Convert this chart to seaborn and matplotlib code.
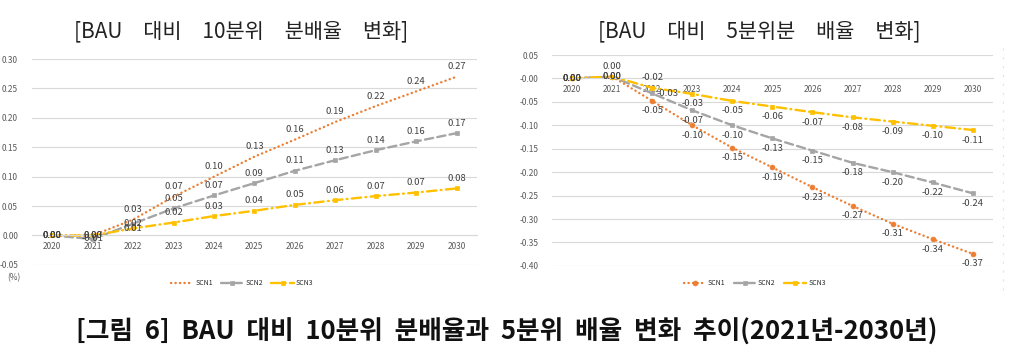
import numpy as np
import pandas as pd
import matplotlib
matplotlib.use("Agg")
import matplotlib.pyplot as plt
from matplotlib.lines import Line2D
import seaborn as sns

# ============================================================================
# DATA
# ============================================================================

years = [2020, 2021, 2022, 2023, 2024, 2025, 2026, 2027, 2028, 2029, 2030]

# BAU 대비 10분위 분배율 변화
decile_scn1 = [0.00, 0.00, 0.027, 0.066, 0.10, 0.134, 0.163, 0.193, 0.22, 0.245, 0.27]
decile_scn2 = [0.00, -0.006, 0.02, 0.046, 0.068, 0.089, 0.11, 0.128, 0.145, 0.16, 0.174]
decile_scn3 = [0.00, 0.00, 0.012, 0.022, 0.033, 0.042, 0.052, 0.06, 0.067, 0.073, 0.08]

# BAU 대비 5분위분 배율 변화
quint_scn1 = [0.00, 0.004, -0.048, -0.10, -0.148, -0.19, -0.232, -0.272, -0.31, -0.343, -0.374]
quint_scn2 = [0.00, 0.004, -0.032, -0.068, -0.10, -0.128, -0.154, -0.18, -0.20, -0.222, -0.245]
quint_scn3 = [0.00, 0.004, -0.02, -0.033, -0.048, -0.06, -0.072, -0.083, -0.092, -0.101, -0.11]

series_names = ["SCN1", "SCN2", "SCN3"]

# data-label placement per point (as the Excel original has them)
decile_pos = {
    "SCN1": ["c", "c"] + ["a"] * 9,
    "SCN2": ["c", "c", "c"] + ["a"] * 8,
    "SCN3": ["c", "c", "c"] + ["a"] * 8,
}
quint_pos = {
    "SCN1": ["c", "a"] + ["b"] * 9,
    "SCN2": ["c", "c", "r"] + ["b"] * 8,
    "SCN3": ["c", "c", "a"] + ["b"] * 8,
}

COLORS = {"SCN1": "#ED7D31", "SCN2": "#A5A5A5", "SCN3": "#FFC000"}
LINESTYLES = {
    "SCN1": (0, (0.1, 1.8)),
    "SCN2": (0, (3.5, 1.8)),
    "SCN3": (0, (4.0, 1.8, 0.4, 1.8)),
}
OFFSETS = {"a": ((0, 4), "center", "bottom"), "b": ((0, -4), "center", "top"),
           "c": ((0, 0), "center", "center"), "r": ((3, 0), "left", "center")}

sns.set_theme(style="white")
plt.rcParams["font.family"] = ["Noto Sans CJK KR", "DejaVu Sans"]

fig = plt.figure(figsize=(10.13, 3.56), dpi=100)


def draw_panel(ax, values, ylim, yticks, positions, markers):
    df = pd.DataFrame({"year": years})
    for name, vals in zip(series_names, values):
        df[name] = vals
    for name in series_names:
        sns.lineplot(data=df, x="year", y=name, ax=ax, label=name,
                     color=COLORS[name], linestyle=LINESTYLES[name],
                     linewidth=1.7, dash_capstyle="round",
                     marker=markers[name], markersize=3.5,
                     markeredgecolor=COLORS[name], markeredgewidth=0.5)
        for x, y, p in zip(df["year"], df[name], positions[name]):
            off, ha, va = OFFSETS[p]
            ax.annotate(f"{y:.2f}", (x, y), xytext=off,
                        textcoords="offset points", ha=ha, va=va,
                        fontsize=6.8, color="#404040")
    ax.set_xlim(years[0] - 0.5, years[-1] + 0.5)
    ax.set_ylim(*ylim)
    ax.set_yticks(yticks)
    ax.set_yticklabels([f"{t:.2f}" for t in yticks])
    ax.set_xticks(years)
    ax.set_xticklabels([str(y) for y in years])
    ax.tick_params(axis="both", length=0, labelsize=6, labelcolor="#595959")
    ax.tick_params(axis="y", pad=10)
    ax.tick_params(axis="x", pad=5)
    for side in ["top", "right", "left"]:
        ax.spines[side].set_visible(False)
    ax.spines["bottom"].set_position(("data", 0))
    ax.spines["bottom"].set_color("#D9D9D9")
    ax.spines["bottom"].set_linewidth(0.8)
    ax.yaxis.grid(True, color="#D9D9D9", linewidth=0.8)
    ax.xaxis.grid(False)
    ax.set_xlabel("")
    ax.set_ylabel("")
    ax.get_legend().remove()


ax1 = fig.add_axes([0.0316, 0.256, 0.439, 0.578])
draw_panel(ax1, [decile_scn1, decile_scn2, decile_scn3],
           (-0.05, 0.30), np.round(np.arange(-0.05, 0.31, 0.05), 2), decile_pos,
           {"SCN1": None, "SCN2": "s", "SCN3": "s"})

ax2 = fig.add_axes([0.545, 0.253, 0.435, 0.5925])
draw_panel(ax2, [quint_scn1, quint_scn2, quint_scn3],
           (-0.40, 0.05), np.round(np.arange(-0.40, 0.051, 0.05), 2), quint_pos,
           {"SCN1": "o", "SCN2": "s", "SCN3": "s"})

for ax, cx in [(ax1, 0.239), (ax2, 0.745)]:
    handles, labels = ax.get_legend_handles_labels()
    fig.legend(handles, labels, loc="center", bbox_to_anchor=(cx, 0.204),
               ncol=3, frameon=False, fontsize=5, handlelength=3.2,
               columnspacing=1.2, handletextpad=0.3)

# faint dotted frame edge at the right of the second chart
fig.add_artist(Line2D([1003 / 1013, 1003 / 1013], [1 - 290 / 356, 1 - 45 / 356],
                      transform=fig.transFigure, color="#E3E3E3",
                      linewidth=0.8, linestyle=(0, (2, 6))))

fig.text(14 / 1013, 1 - 278 / 356, "(%)", fontsize=6, color="#595959",
         ha="center", va="center")

fig.text(241 / 1013, 1 - 31 / 356, "[BAU\u3000대비\u300010분위\u3000분배율\u3000변화]",
         fontsize=15, ha="center", va="center", color="#222222")
fig.text(759 / 1013, 1 - 31 / 356, "[BAU\u3000대비\u30005분위분\u3000배율\u3000변화]",
         fontsize=15, ha="center", va="center", color="#222222")

fig.text(507 / 1013, 1 - 332 / 356,
         "[그림  6]  BAU  대비  10분위  분배율과  5분위  배율  변화  추이(2021년-2030년)",
         fontsize=18.5, fontweight="bold", ha="center", va="center", color="#111111")

fig.savefig("out.png", dpi=100)
